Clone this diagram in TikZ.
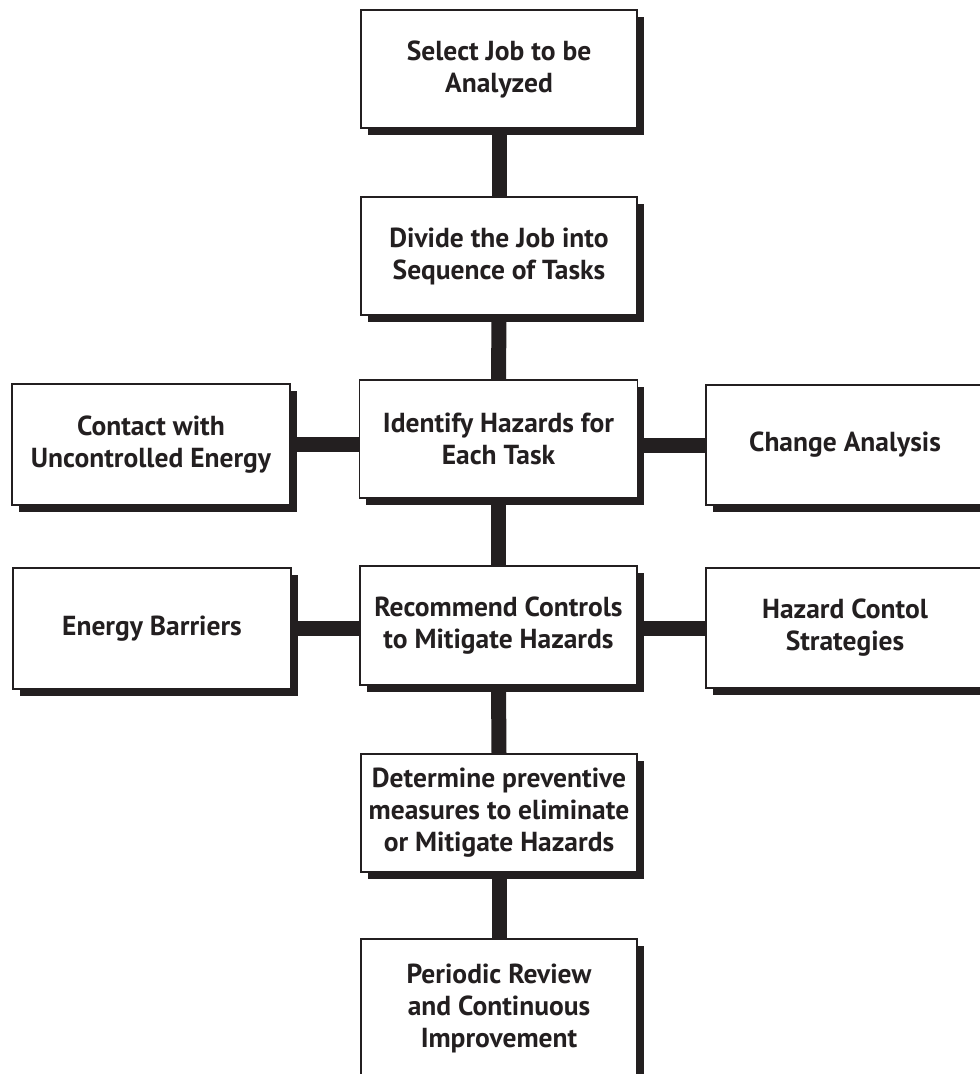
\documentclass[tikz,border=0pt]{standalone}
\usepackage{fontspec}
\setmainfont{PT Sans}
\usetikzlibrary{shadows}
\definecolor{ink}{HTML}{231F20}
\tikzset{
  box/.style={draw=ink, line width=1.2pt, fill=white, align=center, inner sep=0pt,
    text=ink, font=\fontsize{27.5}{32}\selectfont\bfseries,
    drop shadow={shadow xshift=6.5pt, shadow yshift=-6.5pt, fill=ink, opacity=1}},
  conn/.style={draw=ink, line width=15pt, line cap=butt}
}
\begin{document}
\begin{tikzpicture}[x=1pt,y=-1pt]
\useasboundingbox (0,0) rectangle (980,1074);
\clip (0,0) rectangle (980,1074);
\node[box, minimum width=276pt, minimum height=118pt] (b1) at (499,69) {Select Job to be\\Analyzed};
\node[box, minimum width=276pt, minimum height=118pt] (b2) at (499,256) {Divide the Job into\\Sequence of Tasks};
\node[box, minimum width=278pt, minimum height=118pt] (b3) at (498.5,439) {Identify Hazards for\\Each Task};
\node[box, minimum width=278pt, minimum height=121pt] (l3) at (151,444.5) {Contact with\\Uncontrolled Energy};
\node[box, minimum width=278pt, minimum height=120pt] (r3) at (845,445) {Change Analysis};
\node[box, minimum width=277pt, minimum height=119pt] (b4) at (498.5,625.5) {Recommend Controls\\to Mitigate Hazards};
\node[box, minimum width=278pt, minimum height=121pt] (l4) at (152,628.5) {Energy Barriers};
\node[box, minimum width=278pt, minimum height=120pt] (r4) at (845,628) {Hazard Contol\\Strategies};
\node[box, minimum width=276pt, minimum height=118pt] (b5) at (499,813) {Determine preventive\\measures to eliminate\\or Mitigate Hazards};
\node[box, minimum width=276pt, minimum height=138pt] (b6) at (499,1008) {Periodic Review\\and Continuous\\Improvement};
\draw[conn] (b1.south) -- (b2.north);
\draw[conn] (b2.south) -- (b3.north);
\draw[conn] (b3.south) -- (b4.north);
\draw[conn] (b4.south) -- (b5.north);
\draw[conn] (b5.south) -- (b6.north);
\draw[conn] (l3.east) -- (l3.east -| b3.west);
\draw[conn] (r3.west) -- (r3.west -| b3.east);
\draw[conn] (l4.east) -- (l4.east -| b4.west);
\draw[conn] (r4.west) -- (r4.west -| b4.east);
\end{tikzpicture}
\end{document}
